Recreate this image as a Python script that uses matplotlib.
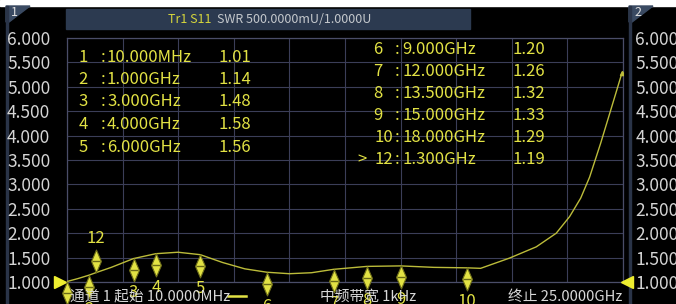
import numpy as np
import matplotlib
matplotlib.use("Agg")
import matplotlib.pyplot as plt
from matplotlib.patches import Rectangle, Polygon
from matplotlib.path import Path
from matplotlib.transforms import offset_copy, blended_transform_factory

plt.rcParams['font.family'] = ['Noto Sans CJK SC', 'DejaVu Sans']

# trace (GHz, SWR)
freq = [0.01, 0.5, 1.0, 1.3, 2.0, 3.0, 4.0, 5.0, 6.0, 7.0, 8.0, 9.0, 10.0,
        11.0, 12.0, 13.5, 15.0, 16.5, 18.0, 18.6, 19.9, 21.1, 22.0, 22.6,
        23.1, 23.5, 24.0, 24.5, 24.95]
swr = [1.01, 1.07, 1.14, 1.19, 1.30, 1.48, 1.58, 1.61, 1.56, 1.40, 1.27,
       1.20, 1.17, 1.19, 1.26, 1.32, 1.33, 1.30, 1.29, 1.28, 1.49, 1.72,
       2.00, 2.34, 2.72, 3.15, 3.85, 4.60, 5.28]

# markers
mk_ids = ['1', '2', '3', '4', '5', '6', '7', '8', '9', '10', '12']
mk_freq = [0.01, 1.0, 3.0, 4.0, 6.0, 9.0, 12.0, 13.5, 15.0, 18.0, 1.3]
mk_swr = [1.01, 1.14, 1.48, 1.58, 1.56, 1.20, 1.26, 1.32, 1.33, 1.29, 1.19]
active = '12'

yticks = [1.0, 1.5, 2.0, 2.5, 3.0, 3.5, 4.0, 4.5, 5.0, 5.5, 6.0]
f_start, f_stop = 0.01, 25.0

YEL = '#e2e244'
TRACE = '#bcbc3a'
GRID = '#3b3e58'
SLATE = '#2c3a50'
W, H = 676, 304


def px(x, y):
    return x / W, 1 - y / H


def fmt_freq(f):
    if f < 1:
        return '%.3fMHz' % (f * 1000)
    return '%.3fGHz' % f


fig = plt.figure(figsize=(W / 100, H / 100), dpi=100)
fig.patch.set_facecolor('black')
ax = fig.add_axes([67 / W, 22 / H, 556 / W, 244 / H])
ax.set_facecolor('black')

ax.set_xlim(f_start, f_stop)
ax.set_ylim(1.0, 6.0)
ax.set_xticks(np.linspace(f_start, f_stop, 11))
ax.set_yticks(yticks)
ax.grid(True, color=GRID, lw=0.8)
ax.tick_params(axis='x', length=0, labelbottom=False)
ax.tick_params(axis='y', length=0, pad=12, labelsize=12.5, labelcolor='#d4d4d4')
ax.set_yticklabels(['%.3f' % v for v in yticks])
for s in ax.spines.values():
    s.set_color('#4a4d68')
    s.set_linewidth(0.9)

ax2 = ax.twinx()
ax2.set_ylim(1.0, 6.0)
ax2.set_yticks(yticks)
ax2.set_yticklabels(['%.3f' % v for v in yticks])
ax2.tick_params(axis='y', length=0, pad=9, labelsize=12.5, labelcolor='#d4d4d4')
for s in ax2.spines.values():
    s.set_visible(False)

# trace
ax.plot(freq, swr, color=TRACE, lw=1.0, zorder=3)
ax.plot(freq[-1:], swr[-1:], marker='^', ms=3, color=TRACE, zorder=3)

# reference level arrows
bt = blended_transform_factory(ax.transAxes, ax.transData)
ax.plot([-0.012], [1.0], marker='>', ms=8, color='#eeee30', transform=bt,
        clip_on=False, zorder=5)
ax.plot([1.007], [1.0], marker='<', ms=8, color='#eeee30', transform=bt,
        clip_on=False, zorder=5)

# marker glyph: tall diamond
diamond = Path([(-0.43, 0), (0, 1), (0.43, 0), (0, -1), (-0.43, 0)],
               [Path.MOVETO, Path.LINETO, Path.LINETO, Path.LINETO,
                Path.CLOSEPOLY])
for mid, f, v in zip(mk_ids, mk_freq, mk_swr):
    up = 1 if mid == active else -1
    tr = offset_copy(ax.transData, fig=fig, x=0, y=up * 11.5, units='dots')
    ax.plot([f], [v], marker=diamond, ms=16.5, mfc=YEL, mec='#70701a',
            mew=0.8, transform=tr, clip_on=False, zorder=6)
    ax.plot([f], [v], marker='_', ms=6, mec='#6a6a18', mew=1.0,
            transform=tr, clip_on=False, zorder=7)
    tl = offset_copy(ax.transData, fig=fig, x=0, y=up * 34, units='dots')
    ax.text(f, v, mid, color=YEL, fontsize=12, ha='center', va='center',
            transform=tl, clip_on=False, zorder=7)

# marker table
left = list(range(5))
right = list(range(5, 11))
for row, i in enumerate(left):
    y = 57 + row * 22.5
    fig.text(*px(83, y), mk_ids[i], color=YEL, fontsize=12, ha='center', va='center')
    fig.text(*px(103, y), ':', color=YEL, fontsize=12, ha='center', va='center')
    fig.text(*px(107, y), fmt_freq(mk_freq[i]), color=YEL, fontsize=12,
             ha='left', va='center')
    fig.text(*px(219, y), '%.2f' % mk_swr[i], color=YEL, fontsize=12,
             ha='left', va='center')
for row, i in enumerate(right):
    y = 50 + row * 22
    lab = mk_ids[i]
    if lab == active:
        fig.text(*px(367, y), '>', color=YEL, fontsize=12, ha='right', va='center')
    if len(lab) == 1:
        fig.text(*px(378, y), lab, color=YEL, fontsize=12, ha='center', va='center')
    else:
        fig.text(*px(393, y), lab, color=YEL, fontsize=12, ha='right', va='center')
    fig.text(*px(397, y), ':', color=YEL, fontsize=12, ha='center', va='center')
    fig.text(*px(402, y), fmt_freq(mk_freq[i]), color=YEL, fontsize=12,
             ha='left', va='center')
    fig.text(*px(513, y), '%.2f' % mk_swr[i], color=YEL, fontsize=12,
             ha='left', va='center')

# header bar and window tabs
fig.add_artist(Rectangle((0, 1 - 6 / H), 1, 6 / H, transform=fig.transFigure,
                         color='white', zorder=0))
fig.add_artist(Rectangle(px(66, 29), 404 / W, 20 / H, transform=fig.transFigure,
                         color=SLATE, zorder=0))
fig.text(*px(168, 19.5), 'Tr1 S11', color='#d6d63c', fontsize=9,
         ha='left', va='center')
fig.text(*px(217, 19.5), 'SWR 500.0000mU/1.0000U', color='#c4c8cc',
         fontsize=9, ha='left', va='center')
for x0 in (6, 629):
    fig.add_artist(Polygon([px(x0, 6), px(x0 + 24, 6), px(x0 + 3, 22),
                            px(x0, 22)], closed=True, transform=fig.transFigure,
                           color='#3a4a62', zorder=0))
    fig.add_artist(Rectangle(px(x0, H), 1.5 / W, (H - 6) / H,
                             transform=fig.transFigure, color='#2a3448',
                             zorder=0))
fig.text(*px(11, 13), '1', color='#e0e0e0', fontsize=9, ha='left', va='center')
fig.text(*px(634, 13), '2', color='#e0e0e0', fontsize=9, ha='left', va='center')

# status line
fig.text(*px(70, 297), '通道 1 起始 10.0000MHz', color='#d8d8d8', fontsize=10.6,
         ha='left', va='center')
fig.add_artist(plt.Line2D([228 / W, 246 / W], [1 - 296 / H] * 2, color=YEL,
                          lw=1.8, transform=fig.transFigure))
fig.text(*px(320, 297), '中频带宽 1kHz', color='#d8d8d8', fontsize=10.6,
         ha='left', va='center')
fig.text(*px(622, 297), '终止 25.0000GHz', color='#d8d8d8', fontsize=10.6,
         ha='right', va='center')

fig.savefig('out.png', dpi=100, facecolor=fig.get_facecolor())
